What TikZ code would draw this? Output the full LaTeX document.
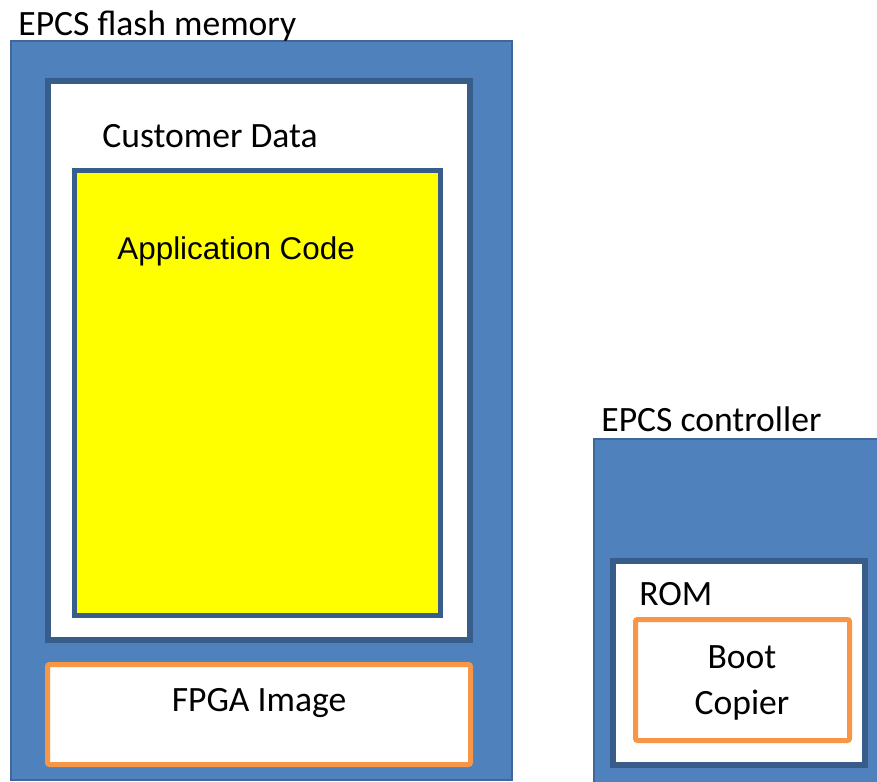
\documentclass[tikz,border=0pt]{standalone}
\usepackage{fontspec}
\setmainfont{Carlito}
\newfontfamily\arialfont{Liberation Sans}
\usepackage{tikz}
\definecolor{chipblue}{HTML}{4F81BD}
\definecolor{chipedge}{HTML}{3E6899}
\definecolor{boxedge}{HTML}{385D8A}
\definecolor{imgedge}{HTML}{F79646}
\definecolor{codefill}{HTML}{FFFF00}
\tikzset{
  mem chip/.style={fill=chipblue,draw=chipedge,line width=1bp},
  mem region/.style={fill=white,draw=boxedge,line width=3bp},
  mem code/.style={fill=codefill,draw=boxedge,line width=2.5bp},
  mem image/.style={fill=white,draw=imgedge,line width=2.5bp,rounded corners=1bp},
  mem label/.style={inner sep=0pt,anchor=base west,font=\fontsize{17.8bp}{20bp}\selectfont},
  mem text/.style={inner sep=0pt,anchor=base,font=\fontsize{17.8bp}{20bp}\selectfont}
}
\begin{document}
\begin{tikzpicture}[x=0.5bp,y=-0.5bp]
  \clip (0,0) rectangle (877,782);
  \fill[white] (0,0) rectangle (877,782);
  % flash memory
  \draw[mem chip] (11,41) rectangle (512,780);
  \draw[mem region] (48,81) rectangle (470,640);
  \draw[mem code] (74.5,170.5) rectangle (440.5,615.5);
  \draw[mem image] (47.5,664.5) rectangle (470.5,764.5);
  \node[mem label] (flashlbl) at (18,35) {EPCS flash memory};
  \node[mem label] (custlbl) at (102,147) {Customer Data};
  \node[mem label,font=\arialfont\fontsize{15.7bp}{18bp}\selectfont] (applbl) at (117,259) {Application Code};
  \node[mem text] (fpgalbl) at (259,711) {FPGA Image};
  % controller
  \draw[mem chip] (594,439) rectangle (890,790);
  \draw[mem region] (613,561) rectangle (865,765);
  \draw[mem image] (635.5,619.5) rectangle (849.5,740.5);
  \node[mem label] (ctrllbl) at (601,431) {EPCS controller};
  \node[mem label] (romlbl) at (639,605) {ROM};
  \node[mem text] (bootlbl) at (742,668) {Boot};
  \node[mem text] (copylbl) at (742,714) {Copier};
\end{tikzpicture}
\end{document}
